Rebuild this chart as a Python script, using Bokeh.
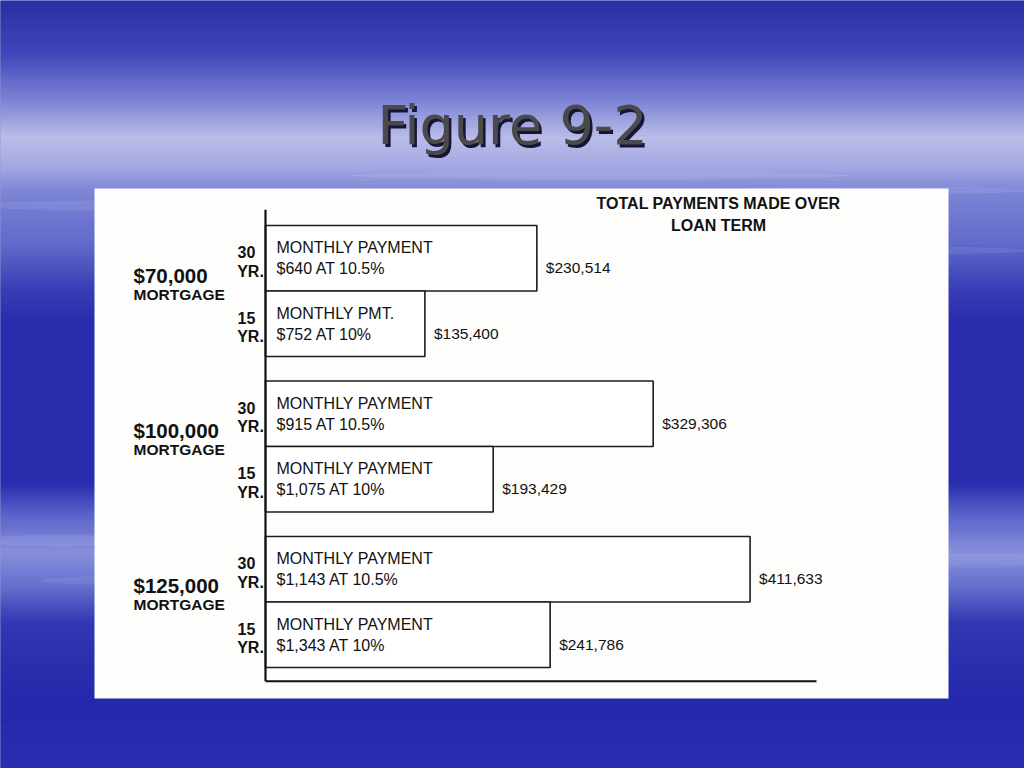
import numpy as np
from bokeh.plotting import figure
from bokeh.models import Range1d
from bokeh.core.properties import value
from bokeh.embed import file_html
from bokeh.resources import INLINE

# ---------------- data ----------------
mortgages = ["$70,000", "$100,000", "$125,000"]
terms = ["30", "15"]
payment_heads = ["MONTHLY PAYMENT", "MONTHLY PMT.", "MONTHLY PAYMENT",
                 "MONTHLY PAYMENT", "MONTHLY PAYMENT", "MONTHLY PAYMENT"]
monthly_payments = ["$640", "$752", "$915", "$1,075", "$1,143", "$1,343"]
rates = ["10.5%", "10%", "10.5%", "10%", "10.5%", "10%"]
total_payments = [230514, 135400, 329306, 193429, 411633, 241786]
header_lines = ["TOTAL PAYMENTS MADE OVER", "LOAN TERM"]
slide_title = "Figure 9-2"

# ---------------- layout ----------------
W, H = 1024, 768
AXIS_PX = 265.0          # page x of the bars' origin
BAR_TOP_PX = 225.0       # page y of the first bar's top
BAR_PX = 65.5            # one bar height in px
GROUP_STEP = 2.374       # bars per group incl. the gap
PX_PER_DOLLAR = 0.0011772


def fx(px):
    return (px - AXIS_PX) / PX_PER_DOLLAR


def fy(py):
    return (py - BAR_TOP_PX) / BAR_PX


p = figure(width=W, height=H, output_backend="svg", toolbar_location=None,
           x_range=Range1d(fx(0), fx(W)),
           y_range=Range1d(fy(H), fy(0)),
           min_border=0, min_border_left=0, min_border_right=0,
           min_border_top=0, min_border_bottom=0)
p.axis.visible = False
p.grid.visible = False
p.outline_line_color = None
p.background_fill_color = "#2a2eae"
p.border_fill_color = "#2a2eae"

# ---------------- slide background gradient ----------------
stops_y = [0, 50, 100, 135, 165, 190, 240, 285, 320, 480, 510, 550, 585, 620, 700, 768]
stops_c = [(44, 48, 165), (62, 70, 185), (128, 134, 214), (186, 189, 232),
           (164, 168, 226), (124, 132, 213), (98, 108, 202), (58, 63, 182),
           (40, 44, 173), (40, 44, 173), (88, 96, 200), (136, 144, 220),
           (100, 110, 205), (50, 55, 178), (36, 40, 171), (42, 47, 176)]
ys = np.arange(0, 772, 4)
cols = []
for yv in ys:
    r = np.interp(yv, stops_y, [c[0] for c in stops_c])
    g = np.interp(yv, stops_y, [c[1] for c in stops_c])
    b = np.interp(yv, stops_y, [c[2] for c in stops_c])
    cols.append("#%02x%02x%02x" % (int(r), int(g), int(b)))
p.quad(left=fx(-10), right=fx(W + 10), top=[fy(v) for v in ys],
       bottom=[fy(v + 5) for v in ys], fill_color=cols, line_color=None)

# soft cloud streaks
sx = [120, 330, 700, 900, 60, 980, 150, 600, 880]
sy = [205, 235, 215, 250, 540, 560, 580, 175, 190]
sw = [300, 380, 420, 260, 160, 140, 220, 500, 300]
sh = [10, 8, 10, 8, 12, 14, 10, 8, 8]
p.ellipse(x=[fx(v) for v in sx], y=[fy(v) for v in sy],
          width=[w / PX_PER_DOLLAR for w in sw], height=[h / BAR_PX for h in sh],
          fill_color="white", fill_alpha=0.08, line_color=None)

# ---------------- title ----------------
p.text(x=[fx(512)], y=[fy(125)], text=[slide_title], text_font=value("DejaVu Sans"),
       text_font_size="54px", text_align="center", text_baseline="alphabetic",
       text_color="#15153a", x_offset=2.5, y_offset=2.5)
p.text(x=[fx(512)], y=[fy(125)], text=[slide_title], text_font=value("DejaVu Sans"),
       text_font_size="54px", text_align="center", text_baseline="alphabetic",
       text_color="#4a4a4a")

# ---------------- white panel ----------------
p.quad(left=fx(94), right=fx(948), top=fy(188), bottom=fy(698),
       fill_color="#fdfdfb", line_color=None)

# ---------------- bars ----------------
n = len(total_payments)
bar_top = [(i // 2) * GROUP_STEP + (i % 2) for i in range(n)]
bar_bot = [t + 1 for t in bar_top]
bar_mid = [t + 0.5 for t in bar_top]
p.quad(left=0, right=total_payments, top=bar_top, bottom=bar_bot,
       fill_color="white", line_color="#1c1c1c", line_width=1.6)

# axis lines
axis_top = bar_top[0] - 0.24
base_y = bar_bot[-1] + 0.21
p.segment(x0=[0], y0=[axis_top], x1=[0], y1=[base_y], line_color="#111111", line_width=2.2)
p.segment(x0=[0], y0=[base_y], x1=[fx(816)], y1=[base_y], line_color="#111111", line_width=2.2)

FONT = value("Liberation Sans")
INK = "#111111"

# text inside bars
p.text(x=[0] * n, y=bar_mid, text=payment_heads, x_offset=11, y_offset=-10.5,
       text_font=FONT, text_font_size="16px", text_baseline="middle", text_color=INK)
p.text(x=[0] * n, y=bar_mid, text=[f"{m} AT  {r}" for m, r in zip(monthly_payments, rates)],
       x_offset=11, y_offset=10.5, text_font=FONT, text_font_size="16px",
       text_baseline="middle", text_color=INK)

# totals
p.text(x=total_payments, y=bar_mid, text=[f"${v:,}" for v in total_payments],
       x_offset=9, y_offset=9.5, text_font=FONT, text_font_size="15.5px",
       text_baseline="middle", text_color=INK)

# term labels
term_labels = [terms[i % 2] for i in range(n)]
p.text(x=[0] * n, y=bar_mid, text=term_labels, x_offset=-19, y_offset=-6,
       text_font=FONT, text_font_size="16px", text_font_style="bold",
       text_align="center", text_baseline="middle", text_color=INK)
p.text(x=[0] * n, y=bar_mid, text=["YR."] * n, x_offset=-15, y_offset=13,
       text_font=FONT, text_font_size="16px", text_font_style="bold",
       text_align="center", text_baseline="middle", text_color=INK)

# mortgage group labels
group_mid = [g * GROUP_STEP + 1 for g in range(len(mortgages))]
p.text(x=[0] * len(mortgages), y=group_mid, text=mortgages, x_offset=-132, y_offset=-16,
       text_font=FONT, text_font_size="20.5px", text_font_style="bold",
       text_baseline="middle", text_color=INK)
p.text(x=[0] * len(mortgages), y=group_mid, text=["MORTGAGE"] * len(mortgages),
       x_offset=-132, y_offset=3, text_font=FONT, text_font_size="15.5px",
       text_font_style="bold", text_baseline="middle", text_color=INK)

# header
p.text(x=[fx(718)] * 2, y=[fy(203), fy(225)], text=header_lines,
       text_font=FONT, text_font_size="16px", text_font_style="bold",
       text_align="center", text_baseline="middle", text_color=INK)

open("out.html", "w").write(file_html(p, INLINE))
